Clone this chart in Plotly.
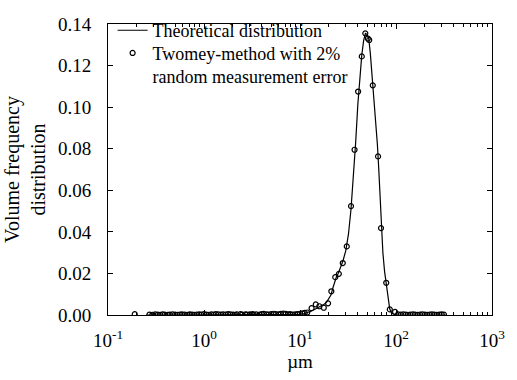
import plotly.graph_objects as go

# Theoretical distribution
theory_x = [0.25, 8, 10, 11, 12, 13, 14, 15, 16, 17, 18, 19, 20, 21, 22, 23, 24, 25, 26, 28,
            30, 32, 34, 36, 38, 40, 42, 44, 46, 48, 50, 52, 54, 56, 58, 60, 62, 64, 66, 68,
            70, 73, 76, 79, 82, 86, 90, 95, 100, 330]
theory_y = [0, 0, 0.0003, 0.0007, 0.0012, 0.0018, 0.0025, 0.0032, 0.0038, 0.0045, 0.0053, 0.0063,
            0.0078, 0.0096, 0.013, 0.016, 0.0185, 0.020, 0.022, 0.026,
            0.031, 0.039, 0.051, 0.066, 0.083, 0.101, 0.115, 0.125, 0.132, 0.1355, 0.135, 0.133,
            0.126, 0.117, 0.107, 0.098, 0.090, 0.082, 0.071, 0.057,
            0.043, 0.030, 0.021, 0.0145, 0.009, 0.003, 0.0008, 0.0002, 0, 0]

# Twomey-method points
twomey_x = [0.19,
            0.27, 0.29, 0.31, 0.33, 0.35, 0.37, 0.39, 0.42, 0.44, 0.47, 0.50, 0.53, 0.56, 0.59,
            0.63, 0.67, 0.71, 0.75, 0.79, 0.84, 0.89, 0.94, 1.0, 1.06, 1.12, 1.19, 1.26, 1.33,
            1.41, 1.50, 1.58, 1.68, 1.78, 1.88, 2.0, 2.1, 2.2, 2.4, 2.5, 2.7, 2.8, 3.0, 3.2, 3.3,
            3.5, 3.8, 4.0, 4.2, 4.5, 4.7, 5.0, 5.3, 5.6, 6.0, 6.3, 6.7, 7.1, 7.5, 7.9, 8.4, 8.9,
            9.4, 10.0, 10.6, 11.2, 11.9,
            13.2, 14.6, 15.9, 17.7, 19.6, 21.2, 23.3, 25.4, 27.9, 30.7, 34.0, 37.0, 40.3, 44.0,
            47.9, 50.9, 52.6, 57.3, 65.0, 69.8, 79.1, 86.2, 97.7,
            105, 112, 119, 126, 133, 141, 150, 158, 168, 178, 188, 200, 211, 224, 237, 251, 266,
            282, 299, 316]
twomey_y = [0.0004,
            0.0002, 0.0001, 0.0003, 0.0002, 0.0001, 0.0003, 0.0002, 0.0001, 0.0002, 0.0003,
            0.0002, 0.0001, 0.0002, 0.0003, 0.0002, 0.0001, 0.0003, 0.0002, 0.0001, 0.0002,
            0.0003, 0.0002, 0.0004, 0.0002, 0.0001, 0.0003, 0.0002, 0.0004, 0.0003, 0.0002,
            0.0003, 0.0002, 0.0004, 0.0003, 0.0002, 0.0001, 0.0003, 0.0004, 0.0002, 0.0003,
            0.0002, 0.0003, 0.0004, 0.0002, 0.0003, 0.0002, 0.0004, 0.0005, 0.0003, 0.0002,
            0.0004, 0.0006, 0.0004, 0.0003, 0.0005, 0.0007, 0.0005, 0.0003, 0.0004, 0.0002,
            0.0003, 0.0004, 0.0006, 0.0008, 0.0010, 0.0012,
            0.0033, 0.0051, 0.0042, 0.0035, 0.0056, 0.0114, 0.0182, 0.0198, 0.0250, 0.0330,
            0.0524, 0.0795, 0.1075, 0.1244, 0.1355, 0.1330, 0.1323, 0.1105, 0.0763, 0.0418,
            0.0155, 0.0027, 0.0015,
            0.0003, 0.0002, 0.0003, 0.0002, 0.0001, 0.0002, 0.0003, 0.0002, 0.0001, 0.0002,
            0.0003, 0.0002, 0.0001, 0.0002, 0.0003, 0.0002, 0.0001, 0.0002, 0.0003, 0.0002]

x_tickvals = [0.1, 1, 10, 100, 1000]
x_ticktext = ["10<sup>-1</sup>", "10<sup>0</sup>", "10<sup>1</sup>", "10<sup>2</sup>", "10<sup>3</sup>"]
y_tickvals = [0.00, 0.02, 0.04, 0.06, 0.08, 0.10, 0.12, 0.14]

FONT = "Liberation Serif"
LEG_FONT = dict(family=FONT, size=18, color="black")

fig = go.Figure()
fig.add_trace(go.Scatter(
    x=theory_x, y=theory_y, mode="lines",
    line=dict(color="black", width=1.2),
    name="Theoretical distribution", legend="legend"))
fig.add_trace(go.Scatter(
    x=twomey_x, y=twomey_y, mode="markers",
    marker=dict(symbol="circle-open", size=5, color="black", line=dict(width=1.2, color="black")),
    name="Twomey-method with 2%<br>random measurement error", legend="legend2"))

fig.update_layout(
    width=517, height=380,
    margin=dict(l=107, r=18, t=13, b=60),
    paper_bgcolor="white", plot_bgcolor="white",
    font=dict(family=FONT, size=18, color="black"),
    showlegend=True,
    legend=dict(x=0.012, y=1.041, xanchor="left", yanchor="top",
                bgcolor="rgba(0,0,0,0)", borderwidth=0, font=LEG_FONT,
                itemwidth=30),
    legend2=dict(x=0.012, y=0.963, xanchor="left", yanchor="top", valign="top",
                 bgcolor="rgba(0,0,0,0)", borderwidth=0, font=LEG_FONT,
                 itemwidth=30),
)
fig.update_xaxes(
    type="log", range=[-1, 3],
    tickvals=x_tickvals, ticktext=x_ticktext,
    ticks="inside", ticklen=5, tickcolor="black",
    minor=dict(ticks="inside", ticklen=3, tickcolor="black", dtick="D1"),
    showline=True, linecolor="black", linewidth=1, mirror="ticks",
    showgrid=False, zeroline=False,
    ticklabelstandoff=8,
    tickfont=dict(family=FONT, size=19, color="black"),
    title=dict(text="µm", font=dict(family=FONT, size=19, color="black"), standoff=4),
)
fig.update_yaxes(
    range=[0, 0.14],
    tickvals=y_tickvals, tickformat=".2f",
    ticks="inside", ticklen=5, tickcolor="black",
    showline=True, linecolor="black", linewidth=1, mirror="ticks",
    showgrid=False, zeroline=False,
    ticklabelstandoff=12,
    tickfont=dict(family=FONT, size=19, color="black"),
    title=dict(text="Volume frequency<br>distribution", font=dict(family=FONT, size=20, color="black"), standoff=6),
)

fig.write_html("out.html")
